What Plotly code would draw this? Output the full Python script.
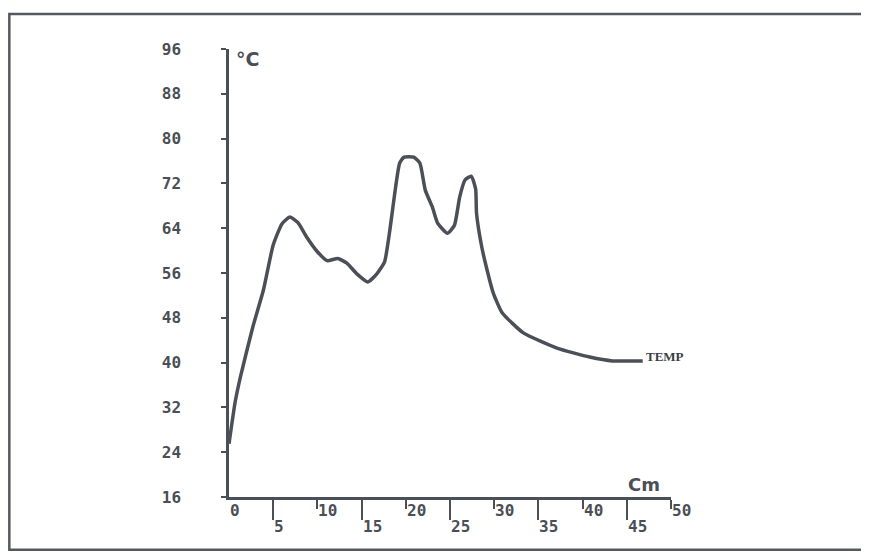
import plotly.graph_objects as go

# Data
distance_cm = [0, 0.7, 1.3, 2.7, 3.9, 5.0, 6.0, 6.9, 7.8, 8.8, 10.0, 11.1, 12.3, 13.3,
               14.5, 15.7, 16.7, 17.6, 18.2, 18.8, 19.3, 19.8, 20.9, 21.6, 22.2, 23.0,
               23.6, 24.7, 25.5, 26.1, 26.7, 27.4, 27.9, 28.0, 28.6, 29.2, 29.9, 30.9,
               33.3, 37.1, 40.8, 43.4, 46.8]
temp_c = [25.5, 33.0, 37.5, 46.4, 53.0, 61.0, 64.8, 66.0, 65.0, 62.4, 59.8, 58.2, 58.6, 57.8,
          55.8, 54.4, 55.8, 58.0, 63.7, 70.8, 75.6, 76.7, 76.7, 75.6, 70.8, 67.8,
          64.9, 63.1, 64.5, 69.6, 72.6, 73.3, 71.0, 66.7, 60.6, 56.5, 52.4, 48.9,
          45.3, 42.6, 41.0, 40.3, 40.3]

y_ticks = [16, 24, 32, 40, 48, 56, 64, 72, 80, 88, 96]
x_ticks_upper = [0, 10, 20, 30, 40, 50]
x_ticks_lower = [5, 15, 25, 35, 45]
series_name = "TEMP"

ink = "#4b5058"
label_font = dict(family="DejaVu Sans Mono", size=16, color="#4a4e55", weight="bold")

fig = go.Figure()
fig.add_trace(go.Scatter(
    x=distance_cm, y=temp_c, mode="lines", name=series_name,
    line=dict(color=ink, width=3.5, shape="spline", smoothing=0.5),
    hoverinfo="x+y", showlegend=False,
))

# series label at the end of the curve
fig.add_annotation(x=distance_cm[-1], y=temp_c[-1], text=series_name, showarrow=False,
                   xanchor="left", yanchor="middle", xshift=1, yshift=4,
                   font=dict(family="Liberation Serif", size=13, color="#3a3e45", weight="bold"))

# x tick labels: upper row and lower row, left-aligned at tick
for v in x_ticks_upper:
    fig.add_annotation(x=v, y=0, xref="x", yref="paper", text=str(v), showarrow=False,
                       xanchor="left", yanchor="middle", yshift=-13, xshift=-1,
                       font=label_font)
for v in x_ticks_lower:
    fig.add_annotation(x=v, y=0, xref="x", yref="paper", text=str(v), showarrow=False,
                       xanchor="left", yanchor="middle", yshift=-29, xshift=-1,
                       font=label_font)

# axis unit labels
fig.add_annotation(x=0, y=1, xref="paper", yref="paper", text="°C", showarrow=False,
                   xanchor="left", yanchor="top", xshift=5, yshift=3,
                   font=dict(family="DejaVu Sans", size=19, color="#4a4e55", weight="bold"))
fig.add_annotation(x=46.9, y=16, xref="x", yref="y", text="Cm", showarrow=False,
                   xanchor="center", yanchor="bottom", yshift=0,
                   font=dict(family="DejaVu Sans", size=18, color="#4a4e55", weight="bold"))

# outer frame of the page
fig.add_shape(type="rect", xref="paper", yref="paper",
              x0=-0.497, x1=1.6, y0=-0.118, y1=1.078,
              line=dict(color="#55595f", width=2.5), layer="below")

fig.update_xaxes(
    range=[0, 50], showline=True, linecolor=ink, linewidth=2.5,
    showgrid=False, zeroline=False, showticklabels=False,
    tickmode="array", tickvals=x_ticks_lower, ticks="outside", ticklen=20,
    tickwidth=2, tickcolor=ink,
    minor=dict(tickmode="array", tickvals=[10, 20, 30, 40, 50], ticks="outside",
               ticklen=9, tickwidth=2, tickcolor=ink),
)
fig.update_yaxes(
    range=[16, 96], showline=True, linecolor=ink, linewidth=2.5,
    showgrid=False, zeroline=False,
    tickmode="array", tickvals=y_ticks, ticktext=[str(v) for v in y_ticks],
    ticks="outside", ticklen=5, tickwidth=2, tickcolor=ink,
    ticklabelstandoff=37, tickfont=label_font,
)

fig.update_layout(
    width=869, height=554,
    margin=dict(l=221, r=206, t=41, b=65),
    paper_bgcolor="white", plot_bgcolor="white",
    showlegend=False,
)

fig.write_html("out.html")
